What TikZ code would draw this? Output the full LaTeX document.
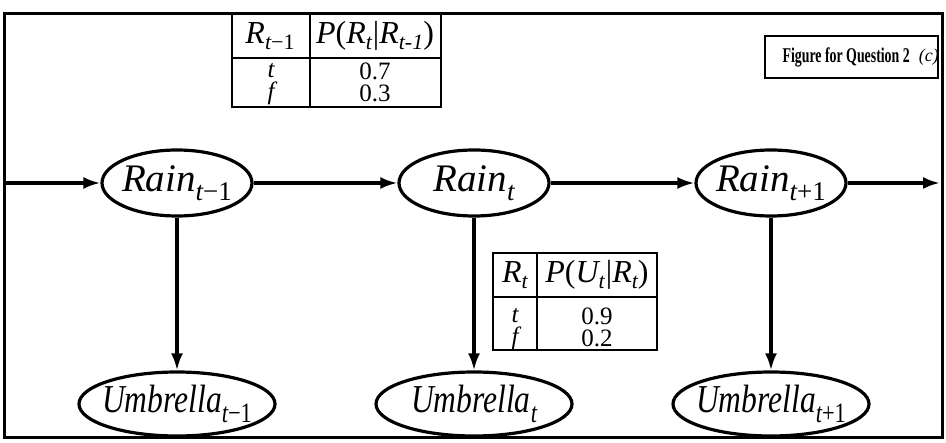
\documentclass[tikz,border=0pt]{standalone}
\usepackage{fontspec}
\setmainfont{Liberation Serif}
\usetikzlibrary{shapes.geometric,arrows.meta}
\newcommand{\nsub}[1]{\raisebox{-9pt}{\fontsize{27}{27}\selectfont #1}}
\newcommand{\tsub}[1]{\raisebox{-6pt}{\fontsize{22}{22}\selectfont #1}}
\newcommand{\fixw}[1]{\makebox[0pt][c]{#1}}
\begin{document}
\begin{tikzpicture}[x=1pt,y=-1pt,line width=3.2pt,
  rainnode/.style={ellipse,draw,line width=3.2pt,minimum width=150pt,minimum height=66pt,inner sep=0pt,font=\fontsize{39}{39}\selectfont\itshape},
  umbnode/.style={ellipse,draw,line width=3.2pt,minimum width=196pt,minimum height=64pt,inner sep=0pt,font=\fontsize{38}{38}\selectfont\itshape},
  arr/.style={-{Latex[length=17pt,width=12pt]},line width=3.2pt},
  tline/.style={line width=2.6pt},
  thead/.style={inner sep=0pt,font=\fontsize{32}{32}\selectfont},
  ttext/.style={inner sep=0pt,font=\fontsize{25}{25}\selectfont},
  titletext/.style={inner sep=0pt,font=\fontsize{21}{21}\selectfont\bfseries}]
\useasboundingbox (0,0) rectangle (946,443);
% outer frame
\draw[line width=3pt] (4,14) rectangle (942,438);
% nodes
\node[rainnode] (r1) at (177,183) {\fixw{Rain\nsub{t\upshape−1}}};
\node[rainnode] (r2) at (474,183) {\fixw{Rain\nsub{t}}};
\node[rainnode] (r3) at (771,183) {\fixw{Rain\nsub{t\upshape+1}}};
\node[umbnode] (u1) at (177,404) {\fixw{\scalebox{0.83}[1.04]{Umbrella\nsub{t\upshape−1}}}};
\node[umbnode] (u2) at (474,404) {\fixw{\scalebox{0.83}[1.04]{Umbrella\nsub{t}}}};
\node[umbnode] (u3) at (771,404) {\fixw{\scalebox{0.83}[1.04]{Umbrella\nsub{t\upshape+1}}}};
\coordinate (lin) at (4,183);
\coordinate (rout) at (940,183);
% connectors
\draw[arr] (lin) -- (r1);
\draw[arr] (r1) -- (r2);
\draw[arr] (r2) -- (r3);
\draw[arr] (r3) -- (rout);
\draw[arr] (r1) -- (u1);
\draw[arr] (r2) -- (u2);
\draw[arr] (r3) -- (u3);
% table 1
\draw[tline,fill=white] (232,14) rectangle (441,107);
\draw[tline] (310,14) -- (310,107);
\draw[tline] (232,58) -- (441,58);
\node[thead] (t1a) at (270,36) {\itshape R\tsub{t\upshape−1}};
\node[thead] (t1b) at (375,36) {\itshape P\upshape(\itshape R\tsub{t}\kern1pt\upshape|\itshape R\tsub{t\upshape-\itshape1}\upshape)};
\node[ttext] (t1c) at (271,71) {\itshape t};
\node[ttext] (t1d) at (375,71) {0.7};
\node[ttext] (t1e) at (271,93) {\itshape f};
\node[ttext] (t1f) at (375,93) {0.3};
% table 2
\draw[tline,fill=white] (493,253) rectangle (657,350);
\draw[tline] (537,253) -- (537,350);
\draw[tline] (493,297) -- (657,297);
\node[thead] (t2a) at (515,275) {\itshape R\tsub{t}};
\node[thead] (t2b) at (597,275) {\itshape P\upshape(\itshape U\tsub{t}\kern1pt\upshape|\itshape R\tsub{t}\upshape)};
\node[ttext] (t2c) at (515,316) {\itshape t};
\node[ttext] (t2d) at (597,316) {0.9};
\node[ttext] (t2e) at (515,338) {\itshape f};
\node[ttext] (t2f) at (597,338) {0.2};
% title box
\draw[tline] (765,36) rectangle (938,78);
\node[titletext,anchor=west] (ttl) at (781,57) {\scalebox{0.66}[1]{Figure for Question 2}};
\node[inner sep=0pt,font=\fontsize{18}{18}\selectfont\itshape,anchor=west] (tc) at (ttl.east) {\hspace{6pt}(c)};
\end{tikzpicture}
\end{document}
